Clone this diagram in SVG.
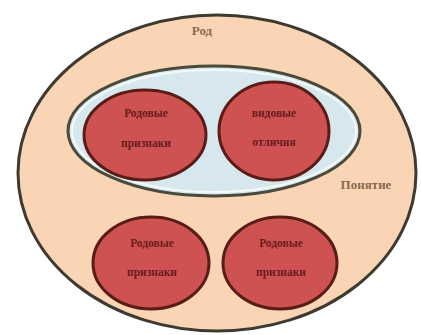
<svg xmlns="http://www.w3.org/2000/svg" width="421" height="335" viewBox="0 0 421 335">
<style>
.outer{fill:#f9d5b6;stroke:#3f3a30;stroke-width:3}
.inner{fill:#d6e8ee;stroke:#4a4a3a;stroke-width:3}
.innerw{fill:none;stroke:#f4f8f8;stroke-width:2}
.cell{fill:#cf5252;stroke:#5a1c16;stroke-width:3}
.ct{font-family:"Liberation Serif",serif;font-size:11.5px;font-weight:bold;fill:#6a1c1c;text-anchor:middle}
.lb{font-family:"Liberation Serif",serif;font-size:13px;font-weight:bold;fill:#8a6a4e;text-anchor:middle}
</style>
<rect width="421" height="335" fill="#ffffff"/>
<g id="genus">
<ellipse class="outer" cx="217" cy="173" rx="199" ry="158"/>
<text class="lb" x="202" y="35">Род</text>
</g>
<g id="concept">
<ellipse class="inner" cx="214" cy="131" rx="146" ry="65"/>
<ellipse class="innerw" cx="214" cy="131" rx="142" ry="61"/>
<text class="lb" x="366" y="189">Понятие</text>
</g>
<g id="c1">
<ellipse class="cell" cx="145" cy="135" rx="61" ry="45"/>
<text class="ct" x="146" y="117">Родовые</text>
<text class="ct" x="146" y="147">признаки</text>
</g>
<g id="c2">
<ellipse class="cell" cx="274" cy="131" rx="55" ry="49"/>
<text class="ct" x="274" y="117">видовые</text>
<text class="ct" x="274" y="146">отличия</text>
</g>
<g id="c3">
<ellipse class="cell" cx="151" cy="263" rx="58" ry="46"/>
<text class="ct" x="152" y="247">Родовые</text>
<text class="ct" x="152" y="276">признаки</text>
</g>
<g id="c4">
<ellipse class="cell" cx="280" cy="263" rx="57" ry="46"/>
<text class="ct" x="281" y="247">Родовые</text>
<text class="ct" x="281" y="276">признаки</text>
</g>
<g id="connectors"></g>
</svg>
